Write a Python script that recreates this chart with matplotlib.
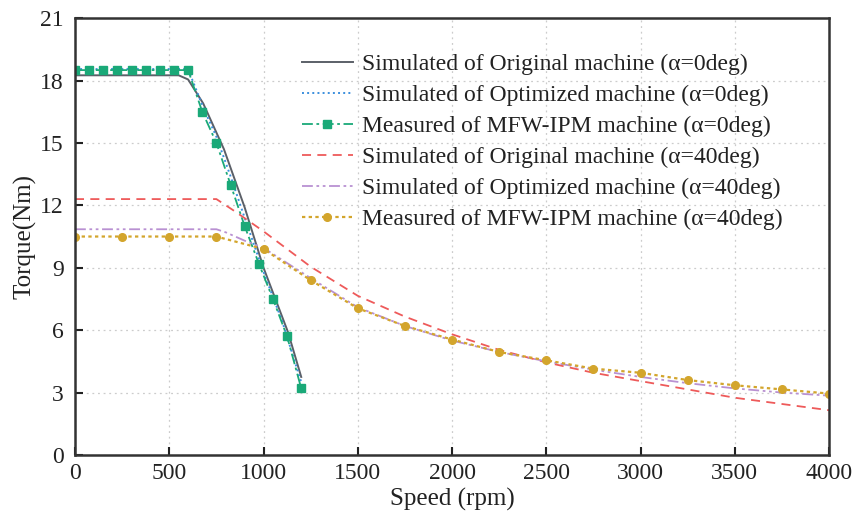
import numpy as np
import matplotlib.pyplot as plt

plt.rcParams['font.family'] = ['Liberation Serif', 'DejaVu Serif']
plt.rcParams['mathtext.fontset'] = 'stix'

# alpha = 0 deg
orig0_speed = [0, 550, 600, 680, 790, 900, 1000, 1130, 1200]
orig0_torque = [18.25, 18.25, 18.05, 16.9, 14.7, 11.9, 9.0, 5.9, 3.75]

opt0_speed = [0, 600, 680, 750, 825, 900, 1000, 1100, 1200]
opt0_torque = [18.55, 18.55, 16.7, 15.3, 13.4, 11.4, 8.8, 6.4, 3.5]

meas0_speed = [0, 75, 150, 225, 300, 375, 450, 525, 600, 675, 750, 825, 900, 975, 1050, 1125, 1200]
meas0_torque = [18.5, 18.5, 18.5, 18.5, 18.5, 18.5, 18.5, 18.5, 18.5,
                16.5, 15.0, 13.0, 11.0, 9.2, 7.5, 5.7, 3.2]

# alpha = 40 deg
orig40_speed = [0, 750, 850, 1000, 1250, 1500, 1750, 2000, 2250, 2500, 2750, 3000, 3250, 3500, 3750, 4000]
orig40_torque = [12.3, 12.3, 11.7, 10.75, 9.05, 7.65, 6.65, 5.8, 5.05, 4.45, 3.95, 3.55, 3.15, 2.75, 2.45, 2.15]

opt40_speed = [0, 750, 800, 900, 1000, 1250, 1500, 1750, 2000, 2250, 2500, 2750, 3000, 3250, 3500, 3750, 4000]
opt40_torque = [10.85, 10.85, 10.7, 10.3, 9.95, 8.5, 7.1, 6.2, 5.5, 4.95, 4.5, 4.1, 3.75, 3.45, 3.2, 3.0, 2.85]

meas40_speed = [0, 250, 500, 750, 1000, 1250, 1500, 1750, 2000, 2250, 2500, 2750, 3000, 3250, 3500, 3750, 4000]
meas40_torque = [10.5, 10.5, 10.5, 10.5, 9.9, 8.4, 7.05, 6.2, 5.55, 4.95, 4.55, 4.15, 3.95, 3.6, 3.35, 3.15, 2.95]

labels = [
    "Simulated of Original machine (α=0deg)",
    "Simulated of Optimized machine (α=0deg)",
    "Measured of MFW-IPM machine (α=0deg)",
    "Simulated of Original machine (α=40deg)",
    "Simulated of Optimized machine (α=40deg)",
    "Measured of MFW-IPM machine (α=40deg)",
]

fig = plt.figure(figsize=(8.56, 5.17), dpi=100)
ax = fig.add_axes([0.0876, 0.12, 0.881, 0.845])

ax.plot(orig0_speed, orig0_torque, '-', color='#5b6068', lw=1.4, label=labels[0])
ax.plot(opt0_speed, opt0_torque, ':', color='#3b8fde', lw=1.4, label=labels[1])
ax.plot(meas0_speed, meas0_torque, linestyle=(0, (6, 2, 1.5, 2)), color='#1aa978', lw=1.3,
        marker='s', markersize=5.5, label=labels[2])
ax.plot(orig40_speed, orig40_torque, linestyle=(0, (5, 3.5)), color='#ee5a5a', lw=1.3, label=labels[3])
ax.plot(opt40_speed, opt40_torque, linestyle=(0, (6, 2, 1.5, 2, 1.5, 2)), color='#b991d2', lw=1.3,
        label=labels[4])
ax.plot(meas40_speed, meas40_torque, linestyle=(0, (1.5, 1.5)), color='#d3a52c', lw=1.6,
        marker='o', markersize=5.5, label=labels[5])

ax.set_xlim(0, 4000)
ax.set_ylim(0, 21)
ax.set_xticks(np.arange(0, 4001, 500))
ax.set_yticks(np.arange(0, 22, 3))
ax.tick_params(axis='both', direction='in', length=6, width=1.5, labelsize=17,
               colors='#222222', top=False, right=False)
ax.tick_params(axis='x', pad=6)
ax.tick_params(axis='y', pad=8)
ax.grid(True, linestyle=(0, (1.5, 3)), color='#cccccc', lw=0.9)
for sp in ax.spines.values():
    sp.set_linewidth(1.8)
    sp.set_color('#333333')

ax.set_xlabel("Speed (rpm)", fontsize=18, color='#222222')
ax.xaxis.set_label_coords(0.5, -0.075)
ax.set_ylabel("Torque(Nm)", fontsize=18, labelpad=3, color='#222222')

leg = ax.legend(loc='upper left', bbox_to_anchor=(0.301, 0.919), frameon=False, fontsize=17,
                borderpad=0, borderaxespad=0, handlelength=2.15, handletextpad=0.38,
                labelspacing=0.40)
for t in leg.get_texts():
    t.set_color('#222222')

fig.savefig("out.png", dpi=100)
